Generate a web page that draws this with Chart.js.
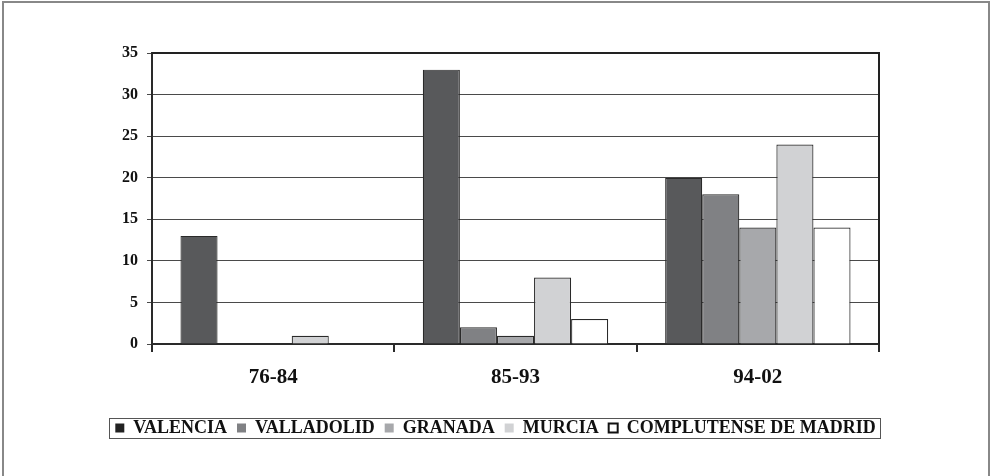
<!DOCTYPE html>
<html>
<head>
<meta charset="utf-8">
<script src="https://cdn.jsdelivr.net/npm/chart.js@4"></script>
<style>
  html, body { margin: 0; padding: 0; background: #fff; }
  #wrap { width: 991px; height: 476px; position: relative; }
</style>
</head>
<body>
<div id="wrap"><canvas id="myChart"></canvas></div>
<script>
// Periodos y universidades
const periodos = ["76-84", "85-93", "94-02"];
const valencia = [13, 33, 20];
const valladolid = [0, 2, 18];
const granada = [0, 1, 14];
const murcia = [1, 8, 24];
const complutense = [0, 3, 14];
const yTicks = [0, 5, 10, 15, 20, 25, 30, 35];

drawChart();
function drawChart() {
    const serif = "'Liberation Serif', 'Times New Roman', serif";

    // Marco exterior, borde del área de trazado y recuadro de la leyenda
    const marcos = {
        id: "marcos",
        beforeDraw(chart) {
            const ctx = chart.ctx;
            ctx.save();
            ctx.fillStyle = "#fff";
            ctx.fillRect(0, 0, chart.width, chart.height);
            ctx.strokeStyle = "#888";
            ctx.lineWidth = 2;
            ctx.strokeRect(3, 2, chart.width - 5, chart.height);
            ctx.restore();
        },
        afterDraw(chart) {
            const ctx = chart.ctx;
            const a = chart.chartArea;
            ctx.save();
            ctx.strokeStyle = "#222";
            ctx.lineWidth = 2;
            ctx.beginPath();
            ctx.moveTo(a.left, a.top);
            ctx.lineTo(a.right, a.top);
            ctx.lineTo(a.right, a.bottom);
            ctx.stroke();
            const boxes = chart.legend.legendHitBoxes;
            if (boxes && boxes.length) {
                const l = Math.min(...boxes.map(b => b.left));
                const r = Math.max(...boxes.map(b => b.left + b.width));
                const t = Math.min(...boxes.map(b => b.top));
                const h = Math.max(...boxes.map(b => b.height));
                ctx.strokeStyle = "#555";
                ctx.lineWidth = 1;
                ctx.strokeRect(Math.round(l - 6) + 0.5, Math.round(t - 1) + 0.5, Math.round(r - l + 11), Math.round(h + 2));
            }
            ctx.restore();
        }
    };

    const borde = "#2a2a2a";
    const config = {
        type: "bar",
        data: {
            labels: periodos,
            datasets: [
                { label: "VALENCIA", data: valencia, backgroundColor: "#58595b" },
                { label: "VALLADOLID", data: valladolid, backgroundColor: "#808184" },
                { label: "GRANADA", data: granada, backgroundColor: "#a7a8ab" },
                { label: "MURCIA", data: murcia, backgroundColor: "#d1d2d4" },
                { label: "COMPLUTENSE DE MADRID", data: complutense, backgroundColor: "#ffffff" }
            ].map(d => Object.assign(d, {
                borderColor: borde,
                borderWidth: 1.2,
                borderSkipped: "bottom",
                categoryPercentage: 0.765,
                barPercentage: 1
            }))
        },
        options: {
            responsive: true,
            maintainAspectRatio: false,
            animation: false,
            devicePixelRatio: 1,
            layout: { padding: { top: 53, right: 56, left: 56, bottom: 29 } },
            plugins: {
                tooltip: { enabled: false },
                legend: {
                    position: "bottom",
                    labels: {
                        color: "#111",
                        font: { family: serif, size: 18, weight: "bold" },
                        boxWidth: 9,
                        boxHeight: 9,
                        padding: 10,
                        generateLabels(chart) {
                            return chart.data.datasets.map((d, i) => ({
                                text: d.label,
                                fillStyle: i === 0 ? "#222" : d.backgroundColor,
                                strokeStyle: i === 4 ? "#111" : d.backgroundColor,
                                lineWidth: i === 4 ? 2 : 0,
                                fontColor: "#111",
                                datasetIndex: i
                            }));
                        }
                    }
                }
            },
            scales: {
                x: {
                    offset: true,
                    afterFit(scale) { scale.height = 65; },
                    border: { color: borde, width: 2 },
                    grid: {
                        offset: true,
                        drawOnChartArea: false,
                        tickLength: 8,
                        color: borde,
                        lineWidth: 2
                    },
                    ticks: {
                        color: "#111",
                        padding: 13,
                        font: { family: serif, size: 21, weight: "bold" }
                    }
                },
                y: {
                    min: 0,
                    max: 35,
                    afterFit(scale) { scale.width = 96; },
                    afterBuildTicks(scale) {
                        scale.ticks = yTicks.map(v => ({ value: v }));
                    },
                    border: { color: borde, width: 2 },
                    grid: {
                        color: "#4a4a4a",
                        lineWidth: 1,
                        tickLength: 5
                    },
                    ticks: {
                        color: "#111",
                        padding: 9,
                        font: { family: serif, size: 16, weight: "bold" }
                    }
                },
                // eje vacío a la derecha, solo para reservar el margen
                margen: {
                    type: "linear",
                    position: "right",
                    display: true,
                    afterFit(scale) { scale.width = 56; },
                    border: { display: false },
                    grid: { display: false },
                    ticks: { display: false }
                }
            }
        },
        plugins: [marcos]
    };
    const myChart = new Chart(document.getElementById("myChart"), config);
}
</script>
</body>
</html>
